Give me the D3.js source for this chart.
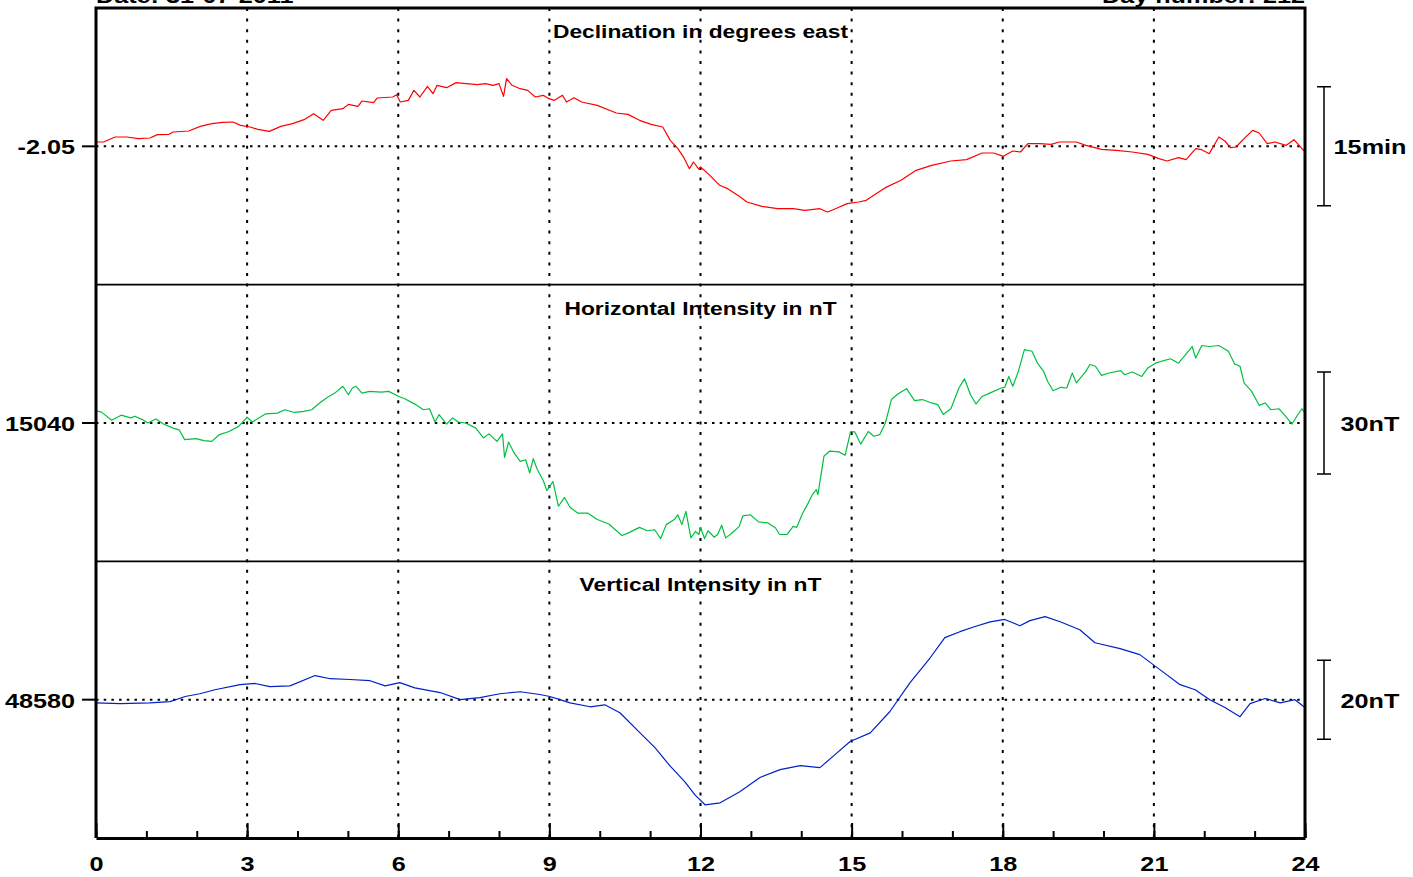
<!DOCTYPE html>
<html>
<head>
<meta charset="utf-8">
<script src="https://cdn.jsdelivr.net/npm/d3@7"></script>
<style>
	body { margin: 0; background: #fff; }
	svg { display: block; }
	text { font-family: "Liberation Sans", Arial, sans-serif; font-weight: bold; fill: #000; }
</style>
</head>
<body>
<svg id="chart" width="1413" height="877"></svg>
<script>
'use strict';

const dateLabel = "Date: 31-07-2011";
const dayLabel = "Day number: 212";
const hourTicks = [0, 3, 6, 9, 12, 15, 18, 21, 24];
const panelTitles = ["Declination in degrees east", "Horizontal Intensity in nT", "Vertical Intensity in nT"];
const baselines = [-2.05, 15040, 48580];
const baselineLabels = ["-2.05", "15040", "48580"];
const halfRanges = [0.2906, 40.7, 35.0];
const scaleBars = [0.25, 30, 20];
const scaleLabels = ["15min", "30nT", "20nT"];

// [hour, degrees]
const declination = [
	[0, -2.0409], [0.15, -2.0409], [0.38, -2.0304], [0.61, -2.0304], [0.84, -2.0339], [1.07, -2.0325],
	[1.22, -2.0255], [1.45, -2.0248], [1.53, -2.0199], [1.84, -2.0178], [2.07, -2.0080], [2.30, -2.0024],
	[2.52, -1.9996], [2.72, -1.9989], [2.87, -2.0059], [3.06, -2.0094], [3.21, -2.0143], [3.44, -2.0185],
	[3.67, -2.0080], [3.90, -2.0024], [4.13, -1.9940], [4.32, -1.9814], [4.51, -1.9954], [4.67, -1.9744],
	[4.90, -1.9709], [5.01, -1.9618], [5.20, -1.9660], [5.28, -1.9548], [5.51, -1.9583], [5.58, -1.9485],
	[5.89, -1.9464], [5.97, -1.9415], [6.04, -1.9569], [6.20, -1.9534], [6.31, -1.9324], [6.43, -1.9464],
	[6.58, -1.9239], [6.69, -1.9394], [6.77, -1.9218], [6.96, -1.9268], [7.15, -1.9162], [7.35, -1.9183],
	[7.57, -1.9204], [7.73, -1.9183], [7.88, -1.9218], [8.00, -1.9183], [8.09, -1.9450], [8.15, -1.9078],
	[8.26, -1.9218], [8.42, -1.9289], [8.57, -1.9324], [8.72, -1.9464], [8.88, -1.9429], [8.99, -1.9499],
	[9.10, -1.9534], [9.26, -1.9429], [9.34, -1.9569], [9.49, -1.9478], [9.64, -1.9569], [9.95, -1.9639],
	[10.33, -1.9800], [10.56, -1.9828], [10.79, -1.9954], [11.02, -2.0038], [11.25, -2.0094], [11.40, -2.0374],
	[11.55, -2.0549], [11.67, -2.0738], [11.78, -2.0969], [11.86, -2.0829], [11.97, -2.0983], [12.00, -2.0934],
	[12.15, -2.1074], [12.38, -2.1319], [12.54, -2.1389], [12.77, -2.1550], [12.92, -2.1669], [13.22, -2.1761],
	[13.53, -2.1810], [13.84, -2.1810], [14.07, -2.1845], [14.37, -2.1810], [14.52, -2.1880], [14.68, -2.1810],
	[14.91, -2.1704], [15.14, -2.1669], [15.29, -2.1634], [15.44, -2.1529], [15.67, -2.1368], [15.98, -2.1214],
	[16.28, -2.1004], [16.59, -2.0899], [16.97, -2.0808], [17.28, -2.0780], [17.59, -2.0640], [17.82, -2.0640],
	[18.01, -2.0710], [18.20, -2.0598], [18.35, -2.0619], [18.50, -2.0444], [18.73, -2.0444], [18.96, -2.0458],
	[19.12, -2.0409], [19.46, -2.0409], [19.65, -2.0479], [19.96, -2.0563], [20.26, -2.0584], [20.57, -2.0619],
	[20.88, -2.0668], [21.10, -2.0759], [21.26, -2.0808], [21.49, -2.0738], [21.64, -2.0780], [21.83, -2.0549],
	[21.95, -2.0570], [22.10, -2.0654], [22.29, -2.0304], [22.41, -2.0388], [22.52, -2.0528], [22.63, -2.0514],
	[22.79, -2.0339], [22.96, -2.0164], [23.09, -2.0220], [23.25, -2.0444], [23.40, -2.0409], [23.63, -2.0479],
	[23.78, -2.0360], [23.97, -2.0584], [24.00, -2.0584]
];

// [hour, nT]
const horizontal = [
	[0, 15043.6], [0.11, 15043.2], [0.31, 15040.8], [0.50, 15042.3], [0.69, 15041.5], [0.77, 15042.0],
	[0.92, 15041.0], [1.03, 15040.0], [1.19, 15041.2], [1.34, 15039.7], [1.53, 15038.5], [1.65, 15038.0],
	[1.76, 15035.1], [1.99, 15035.4], [2.14, 15034.8], [2.30, 15034.6], [2.45, 15036.6], [2.64, 15037.5],
	[2.83, 15039.0], [3.00, 15041.7], [3.10, 15040.3], [3.37, 15042.7], [3.60, 15042.9], [3.75, 15043.9],
	[3.94, 15043.1], [4.13, 15043.4], [4.28, 15043.9], [4.44, 15045.9], [4.59, 15047.5], [4.74, 15048.8],
	[4.90, 15050.8], [5.01, 15048.3], [5.09, 15050.3], [5.16, 15050.8], [5.28, 15048.8], [5.43, 15049.3],
	[5.66, 15049.1], [5.81, 15049.3], [6.01, 15047.8], [6.12, 15047.2], [6.35, 15045.4], [6.50, 15043.9],
	[6.62, 15044.2], [6.73, 15040.3], [6.81, 15042.5], [6.96, 15039.7], [7.08, 15041.5], [7.19, 15040.3],
	[7.34, 15040.0], [7.54, 15038.5], [7.69, 15035.6], [7.80, 15036.8], [7.96, 15034.6], [8.07, 15036.8],
	[8.11, 15029.9], [8.19, 15034.4], [8.30, 15031.2], [8.42, 15028.7], [8.53, 15029.2], [8.61, 15025.3],
	[8.68, 15029.5], [8.76, 15026.3], [8.88, 15023.0], [8.95, 15020.1], [9.07, 15022.8], [9.18, 15015.5],
	[9.30, 15018.1], [9.41, 15015.2], [9.56, 15013.5], [9.76, 15013.5], [9.95, 15011.6], [10.18, 15010.3],
	[10.44, 15006.9], [10.56, 15007.6], [10.79, 15009.3], [10.94, 15008.3], [11.09, 15008.6], [11.21, 15006.0],
	[11.32, 15010.1], [11.48, 15011.6], [11.55, 15013.0], [11.63, 15010.1], [11.71, 15014.0], [11.81, 15006.2],
	[11.90, 15008.1], [11.97, 15007.2], [12.00, 15009.3], [12.08, 15006.0], [12.15, 15008.3], [12.27, 15006.4],
	[12.34, 15007.2], [12.42, 15009.9], [12.50, 15006.2], [12.61, 15007.4], [12.77, 15009.6], [12.84, 15012.7],
	[12.99, 15013.0], [13.15, 15010.9], [13.34, 15010.6], [13.49, 15009.1], [13.57, 15007.2], [13.72, 15007.2],
	[13.84, 15009.6], [13.91, 15009.3], [14.03, 15013.5], [14.14, 15016.5], [14.22, 15018.9], [14.30, 15020.4],
	[14.33, 15018.9], [14.45, 15030.2], [14.56, 15031.7], [14.75, 15031.5], [14.87, 15030.5], [14.98, 15037.5],
	[15.06, 15037.4], [15.18, 15033.8], [15.33, 15037.5], [15.44, 15036.1], [15.56, 15036.6], [15.67, 15040.0],
	[15.79, 15046.9], [15.90, 15048.3], [15.98, 15049.1], [16.09, 15050.1], [16.25, 15046.6], [16.40, 15046.9],
	[16.59, 15045.9], [16.71, 15045.4], [16.82, 15042.5], [16.97, 15044.2], [17.13, 15050.3], [17.24, 15053.0],
	[17.36, 15048.3], [17.47, 15045.6], [17.59, 15047.8], [17.74, 15048.8], [17.97, 15050.3], [18.04, 15050.5],
	[18.12, 15053.7], [18.20, 15050.8], [18.31, 15055.2], [18.43, 15061.6], [18.58, 15061.1], [18.69, 15057.6],
	[18.81, 15055.2], [18.89, 15052.3], [19.00, 15049.5], [19.15, 15050.5], [19.27, 15050.3], [19.38, 15054.7],
	[19.46, 15051.8], [19.65, 15055.2], [19.73, 15057.2], [19.84, 15056.7], [19.96, 15054.0], [20.11, 15054.7],
	[20.34, 15055.4], [20.42, 15054.2], [20.57, 15055.0], [20.76, 15053.7], [20.88, 15056.2], [21.03, 15057.6],
	[21.18, 15058.3], [21.33, 15058.9], [21.49, 15057.6], [21.60, 15059.6], [21.76, 15062.5], [21.83, 15059.1],
	[21.95, 15062.8], [22.10, 15062.5], [22.29, 15062.8], [22.48, 15061.1], [22.60, 15057.4], [22.71, 15056.7],
	[22.79, 15051.8], [22.94, 15049.3], [23.09, 15045.2], [23.21, 15045.9], [23.32, 15043.9], [23.48, 15044.2],
	[23.63, 15041.7], [23.74, 15039.7], [23.86, 15042.5], [23.94, 15044.2], [24.00, 15042.9]
];

// [hour, nT]
const vertical = [
	[0, 48579.2], [0.48, 48579.0], [1.07, 48579.2], [1.47, 48579.5], [1.77, 48580.8], [2.06, 48581.5],
	[2.36, 48582.5], [2.86, 48583.8], [3.16, 48584.1], [3.45, 48583.3], [3.85, 48583.5], [4.35, 48586.1],
	[4.65, 48585.3], [5.04, 48585.1], [5.44, 48584.8], [5.74, 48583.5], [6.03, 48584.3], [6.33, 48583.0],
	[6.83, 48581.8], [7.23, 48580.0], [7.62, 48580.5], [8.02, 48581.5], [8.42, 48582.0], [8.81, 48581.3],
	[9.01, 48580.8], [9.21, 48580.0], [9.41, 48579.2], [9.81, 48578.2], [10.10, 48578.7], [10.40, 48576.7],
	[10.80, 48571.6], [11.10, 48567.8], [11.39, 48563.3], [11.69, 48559.2], [11.89, 48555.9], [12.09, 48553.4],
	[12.39, 48553.9], [12.78, 48556.7], [13.18, 48560.3], [13.58, 48562.3], [13.98, 48563.3], [14.37, 48562.8],
	[14.67, 48566.1], [14.97, 48569.4], [15.37, 48571.6], [15.76, 48577.0], [16.16, 48584.3], [16.56, 48590.6],
	[16.85, 48595.7], [17.15, 48597.2], [17.45, 48598.5], [17.75, 48599.7], [18.04, 48600.3], [18.34, 48598.7],
	[18.54, 48600.0], [18.84, 48601.0], [19.14, 48599.7], [19.53, 48597.7], [19.83, 48594.4], [20.33, 48592.9],
	[20.72, 48591.4], [21.12, 48587.6], [21.52, 48583.8], [21.82, 48582.5], [22.11, 48580.0], [22.41, 48578.0],
	[22.71, 48575.7], [22.91, 48579.0], [23.21, 48580.3], [23.51, 48579.2], [23.80, 48580.0], [24.00, 48578.0]
];

const seriesData = [declination, horizontal, vertical];
const seriesColors = ["#ff0000", "#00c040", "#0020c8"];

const svg = d3.select("#chart");
const plotLeft = 96, plotRight = 1305, plotTop = 8, plotBottom = 838;
const stretch = "scale(1.2,1)";

const x = d3.scaleLinear().domain([0, 24]).range([plotLeft, plotRight]);
const band = d3.scaleBand().domain([0, 1, 2]).range([plotTop, plotBottom]);

// top labels
svg.append("text")
	.attr("transform", `translate(${plotLeft},3) ${stretch}`)
	.attr("font-size", 21)
	.text(dateLabel);
svg.append("text")
	.attr("transform", `translate(${plotRight},3) ${stretch}`)
	.attr("font-size", 21)
	.attr("text-anchor", "end")
	.text(dayLabel);

// vertical dotted grid
svg.append("g")
	.selectAll("line")
	.data(hourTicks.slice(1, -1))
	.enter().append("line")
	.attr("x1", d => x(d)).attr("x2", d => x(d))
	.attr("y1", plotTop).attr("y2", plotBottom)
	.attr("stroke", "#000")
	.attr("stroke-width", 2)
	.attr("stroke-dasharray", "3,7.6");

seriesData.forEach((data, i) => {
	const y0 = band(i), y1 = y0 + band.bandwidth();
	const y = d3.scaleLinear()
		.domain([baselines[i] - halfRanges[i], baselines[i] + halfRanges[i]])
		.range([y1, y0]);
	const g = svg.append("g");

	// baseline
	g.append("line")
		.attr("x1", plotLeft).attr("x2", plotRight)
		.attr("y1", y(baselines[i])).attr("y2", y(baselines[i]))
		.attr("stroke", "#000")
		.attr("stroke-width", 2)
		.attr("stroke-dasharray", "2.5,5.2");
	g.append("line")
		.attr("x1", plotLeft - 14).attr("x2", plotLeft)
		.attr("y1", y(baselines[i])).attr("y2", y(baselines[i]))
		.attr("stroke", "#000")
		.attr("stroke-width", 2);
	g.append("text")
		.attr("transform", `translate(${plotLeft - 21},${y(baselines[i]) + 8}) ${stretch}`)
		.attr("font-size", 21)
		.attr("text-anchor", "end")
		.text(baselineLabels[i]);

	// title
	g.append("text")
		.attr("transform", `translate(${(plotLeft + plotRight) / 2},${y0 + 30}) ${stretch}`)
		.attr("font-size", 19)
		.attr("text-anchor", "middle")
		.text(panelTitles[i]);

	// scale bar
	const half = scaleBars[i] / 2;
	const bx = plotRight + 19;
	const ya = y(baselines[i] + half), yb = y(baselines[i] - half);
	g.append("path")
		.attr("d", `M${bx - 7},${ya}H${bx + 7}M${bx},${ya}V${yb}M${bx - 7},${yb}H${bx + 7}`)
		.attr("stroke", "#000")
		.attr("stroke-width", 1.5)
		.attr("fill", "none");
	g.append("text")
		.attr("transform", `translate(${bx + 46},${y(baselines[i]) + 8}) ${stretch}`)
		.attr("font-size", 21)
		.attr("text-anchor", "middle")
		.text(scaleLabels[i]);

	// trace
	g.append("path")
		.datum(data)
		.attr("d", d3.line().x(d => x(d[0])).y(d => y(d[1])))
		.attr("fill", "none")
		.attr("stroke", seriesColors[i])
		.attr("stroke-width", 1.2)
		.attr("stroke-linejoin", "round");

	// divider
	if (i > 0) {
		svg.append("line")
			.attr("x1", plotLeft).attr("x2", plotRight)
			.attr("y1", y0).attr("y2", y0)
			.attr("stroke", "#000")
			.attr("stroke-width", 1.8);
	}
});

// frame
svg.append("path")
	.attr("d", `M${plotLeft},${plotBottom}V${plotTop}H${plotRight}V${plotBottom}`)
	.attr("fill", "none")
	.attr("stroke", "#000")
	.attr("stroke-width", 3);

// x axis: hourly minor ticks, labelled every 3 hours
const minorAxis = svg.append("g")
	.attr("transform", `translate(0,${plotBottom})`)
	.call(d3.axisBottom(x).tickValues(d3.range(25)).tickSize(-7).tickSizeOuter(0).tickFormat(""));
minorAxis.select(".domain").remove();
minorAxis.selectAll(".tick line").attr("stroke-width", 2);

const majorAxis = svg.append("g")
	.attr("transform", `translate(0,${plotBottom})`)
	.call(d3.axisBottom(x).tickValues(hourTicks).tickSize(-15).tickSizeOuter(0).tickPadding(18));
majorAxis.select(".domain").attr("stroke-width", 3);
majorAxis.selectAll(".tick line").attr("stroke-width", 2);
majorAxis.selectAll(".tick text")
	.attr("font-size", 21)
	.attr("font-family", null)
	.attr("fill", "#000")
	.attr("transform", stretch);
</script>
</body>
</html>
